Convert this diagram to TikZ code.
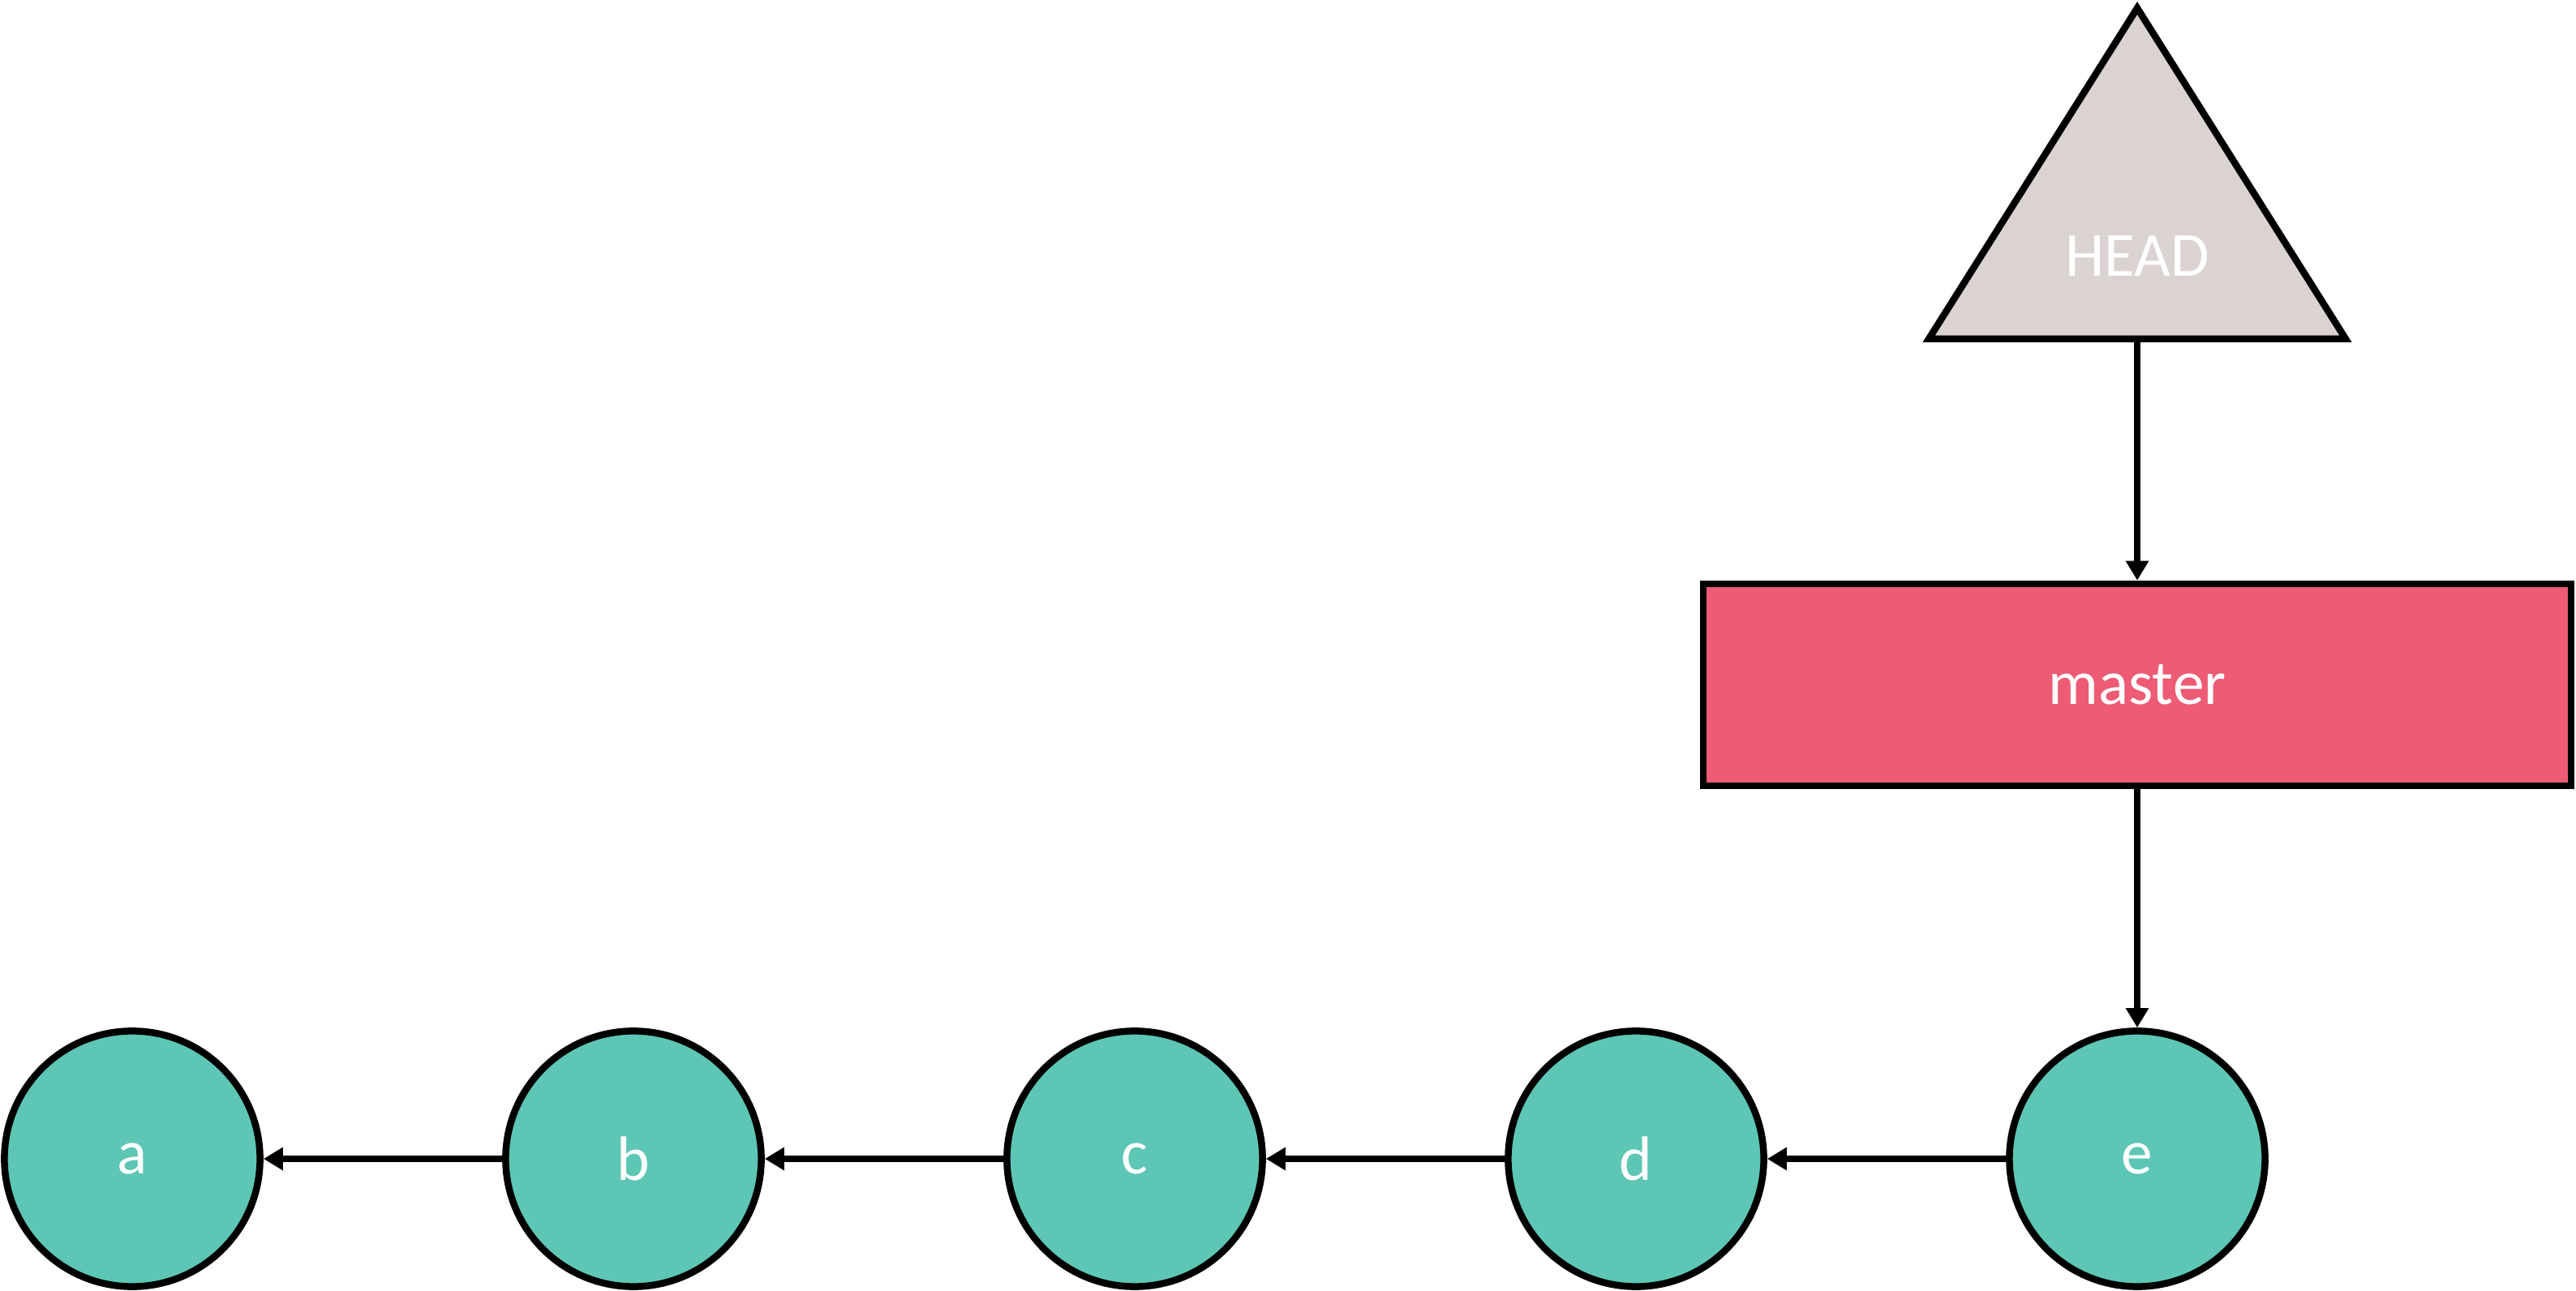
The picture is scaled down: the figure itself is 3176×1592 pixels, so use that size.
\documentclass[tikz,border=0pt]{standalone}
\usepackage{fontspec}
\setmainfont{Carlito}
\usetikzlibrary{arrows.meta}
\definecolor{commitc}{HTML}{5DC6B5}
\definecolor{branchc}{HTML}{ED5B75}
\definecolor{headc}{HTML}{DBD3D1}
\tikzset{
  lw/.style={line width=0.085cm},
  commit/.style={circle, lw, draw=black, fill=commitc, minimum size=3.15cm, inner sep=0pt, text=white, font=\fontsize{22}{26}\selectfont},
  branch/.style={rectangle, lw, draw=black, fill=branchc, minimum width=10.69cm, minimum height=2.49cm, inner sep=0pt, text=white, font=\fontsize{22}{26}\selectfont},
  headshape/.style={lw, draw=black, fill=headc, line join=miter},
  headlabel/.style={text=white, font=\fontsize{22}{26}\selectfont, inner sep=0pt},
  arr/.style={lw, -{Triangle[width=0.27cm,length=0.24cm]}},
}
\begin{document}
\begin{tikzpicture}[x=0.01cm,y=-0.01cm]
\useasboundingbox (0,0) rectangle (3176,1592);
\node[commit] (a) at (163,1429) {a};
\node[commit] (b) at (781,1429) {b};
\node[commit] (c) at (1399,1429) {c};
\node[commit] (d) at (2017,1429) {d};
\node[commit] (e) at (2635,1429) {e};
\node[branch] (master) at (2635,844.5) {master};
\coordinate (hl) at (2378,418);
\coordinate (hr) at (2892,418);
\coordinate (ht) at (2635,10);
\coordinate (headbase) at (2635,418);
\draw[arr] (headbase) -- (master.north);
\draw[headshape] (hl) -- (ht) -- (hr) -- cycle;
\node[headlabel] (head) at (2635,316) {HEAD};
\draw[arr] (master.south) -- (e.north);
\draw[arr] (e.west) -- (d.east);
\draw[arr] (d.west) -- (c.east);
\draw[arr] (c.west) -- (b.east);
\draw[arr] (b.west) -- (a.east);
\end{tikzpicture}
\end{document}
